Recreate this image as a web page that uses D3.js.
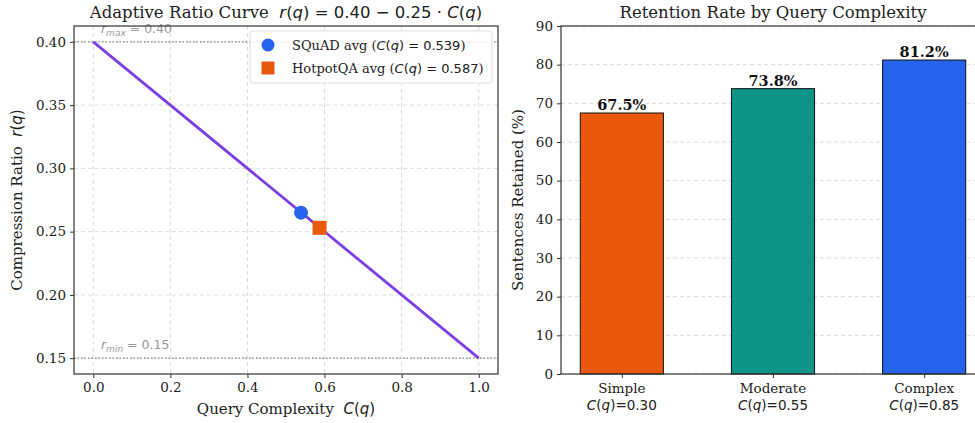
<!DOCTYPE html>
<html><head><meta charset="utf-8">
<script src="https://cdn.jsdelivr.net/npm/d3@7"></script>
<style>body{margin:0;background:#fff}svg{display:block}</style>
</head><body>
<script>
// ---- data ----
const lineX = [0.0, 1.0];
const lineY = [0.40, 0.15];
const rMax = 0.40, rMin = 0.15;
const datasetNames = ["SQuAD avg", "HotpotQA avg"];
const datasetC = [0.539, 0.587];
const datasetR = [0.265, 0.253];
const xTicksL = [0.0, 0.2, 0.4, 0.6, 0.8, 1.0];
const yTicksL = [0.15, 0.20, 0.25, 0.30, 0.35, 0.40];
const categories = ["Simple", "Moderate", "Complex"];
const catC = ["0.30", "0.55", "0.85"];
const retention = [67.5, 73.8, 81.2];
const yTicksR = [0, 10, 20, 30, 40, 50, 60, 70, 80, 90];
const barColors = ["#e8590c", "#0f9488", "#2563eb"];

const W = 975, H = 423;
const serif = "DejaVu Serif";
const sans = "DejaVu Sans";
const NB = "\u00a0";
const svg = d3.select("body").append("svg").attr("width", W).attr("height", H);

// parts: [text, style] style: 0 serif, 1 sans italic, 2 sans upright
function mixed(sel, parts) {
  parts.forEach(p => {
    const s = p[1] || 0;
    sel.append("tspan").text(p[0])
      .attr("font-family", s ? sans : serif)
      .attr("font-style", s === 1 ? "italic" : "normal");
  });
  return sel;
}

// ---- left panel ----
const L = {x0: 74, x1: 498, y0: 26, y1: 374};
const xL = d3.scaleLinear().domain([-0.05, 1.05]).range([L.x0, L.x1]);
const yL = d3.scaleLinear().domain([0.1375, 0.4125]).range([L.y1, L.y0]);
const gL = svg.append("g");

// grid
gL.selectAll(".gx").data(xTicksL).join("line")
  .attr("x1", d => xL(d)).attr("x2", d => xL(d)).attr("y1", L.y0).attr("y2", L.y1)
  .attr("stroke", "#d0d0d0").attr("stroke-dasharray", "4,3").attr("stroke-width", 0.8);
gL.selectAll(".gy").data(yTicksL).join("line")
  .attr("x1", L.x0).attr("x2", L.x1).attr("y1", d => yL(d)).attr("y2", d => yL(d))
  .attr("stroke", "#d0d0d0").attr("stroke-dasharray", "4,3").attr("stroke-width", 0.8);

// reference lines
[rMax, rMin].forEach(v => {
  gL.append("line").attr("x1", L.x0).attr("x2", L.x1).attr("y1", yL(v)).attr("y2", yL(v))
    .attr("stroke", "#888").attr("stroke-dasharray", "1.5,2").attr("stroke-width", 1.2);
});
function refLabel(v, sub, txt) {
  const t = gL.append("text").attr("x", xL(0.02)).attr("y", yL(v) - 9)
    .attr("font-size", 12.5).attr("fill", "#999");
  t.append("tspan").text("r").attr("font-family", sans).attr("font-style", "italic");
  t.append("tspan").text(sub).attr("font-family", sans).attr("font-style", "italic").attr("font-size", 9).attr("dy", 3);
  t.append("tspan").text(" = " + txt).attr("font-family", sans).attr("dy", -3);
}
refLabel(rMax, "max", "0.40");
refLabel(rMin, "min", "0.15");

// curve
const lineGen = d3.line().x(d => xL(d[0])).y(d => yL(d[1]));
gL.append("path").datum(lineX.map((x, i) => [x, lineY[i]])).attr("d", lineGen)
  .attr("fill", "none").attr("stroke", "#7b3fe4").attr("stroke-width", 2.8);

// points
gL.append("circle").attr("cx", xL(datasetC[0])).attr("cy", yL(datasetR[0])).attr("r", 7)
  .attr("fill", "#2563eb");
gL.append("rect").attr("x", xL(datasetC[1]) - 7).attr("y", yL(datasetR[1]) - 7)
  .attr("width", 14).attr("height", 14).attr("fill", "#e8590c");

// axes
const axL = gL.append("g").attr("transform", `translate(0,${L.y1})`)
  .call(d3.axisBottom(xL).tickValues(xTicksL).tickFormat(d3.format(".1f")).tickSize(4).tickPadding(4));
const ayL = gL.append("g").attr("transform", `translate(${L.x0},0)`)
  .call(d3.axisLeft(yL).tickValues(yTicksL).tickFormat(d3.format(".2f")).tickSize(4).tickPadding(4));
[axL, ayL].forEach(a => {
  a.select(".domain").remove();
  a.selectAll("text").attr("font-family", serif).attr("font-size", 13.5).attr("fill", "#222");
  a.selectAll("line").attr("stroke", "#333");
});
gL.append("rect").attr("x", L.x0).attr("y", L.y0).attr("width", L.x1 - L.x0).attr("height", L.y1 - L.y0)
  .attr("fill", "none").attr("stroke", "#333").attr("stroke-width", 1.2);

// legend
const lg = gL.append("g");
lg.append("rect").attr("x", 250).attr("y", 31).attr("width", 242).attr("height", 52).attr("rx", 3)
  .attr("fill", "#fff").attr("fill-opacity", 0.85).attr("stroke", "#ddd");
lg.append("circle").attr("cx", 268).attr("cy", 45).attr("r", 6.5).attr("fill", "#2563eb");
lg.append("rect").attr("x", 261.5).attr("y", 61.5).attr("width", 13).attr("height", 13).attr("fill", "#e8590c");
datasetNames.forEach((n, i) => {
  mixed(lg.append("text").attr("x", 292).attr("y", 50 + 23 * i).attr("font-size", 13).attr("fill", "#222"),
    [[n + " ("], ["C", 1], ["(", 2], ["q", 1], [") = " + datasetC[i].toFixed(3), 2], [")"]]);
});

// titles / labels
const tl = svg.append("text").attr("x", (L.x0 + L.x1) / 2).attr("y", 18).attr("text-anchor", "middle")
  .attr("font-size", 16.5).attr("fill", "#222");
mixed(tl, [["Adaptive Ratio Curve" + NB + NB], ["r", 1], ["(", 2], ["q", 1], [")", 2], [" = 0.40 − 0.25 · ", 2], ["C", 1], ["(", 2], ["q", 1], [")", 2]]);

const xlabL = svg.append("text").attr("x", (L.x0 + L.x1) / 2).attr("y", 414).attr("text-anchor", "middle")
  .attr("font-size", 15).attr("fill", "#222");
mixed(xlabL, [["Query Complexity" + NB + NB], ["C", 1], ["(", 2], ["q", 1], [")", 2]]);
const ylabL = svg.append("text").attr("transform", `translate(22,${(L.y0 + L.y1) / 2}) rotate(-90)`)
  .attr("text-anchor", "middle").attr("font-size", 15).attr("fill", "#222");
mixed(ylabL, [["Compression Ratio" + NB + NB], ["r", 1], ["(", 2], ["q", 1], [")", 2]]);

// ---- right panel ----
const R = {x0: 561, x1: 985, y0: 26, y1: 374};
const xR = d3.scaleLinear().domain([-0.4025, 2.4025]).range([R.x0, R.x1]);
const yR = d3.scaleLinear().domain([0, 90]).range([R.y1, R.y0]);
const gR = svg.append("g");
gR.selectAll(".gy").data(yTicksR).join("line")
  .attr("x1", R.x0).attr("x2", R.x1).attr("y1", d => yR(d)).attr("y2", d => yR(d))
  .attr("stroke", "#d0d0d0").attr("stroke-dasharray", "4,3").attr("stroke-width", 0.8);
const bw = 0.55;
gR.selectAll(".bar").data(retention).join("rect")
  .attr("x", (d, i) => xR(i - bw / 2)).attr("width", xR(bw) - xR(0))
  .attr("y", d => yR(d)).attr("height", d => yR(0) - yR(d))
  .attr("fill", (d, i) => barColors[i]).attr("stroke", "#111").attr("stroke-width", 1);
gR.selectAll(".lbl").data(retention).join("text")
  .attr("x", (d, i) => xR(i)).attr("y", d => yR(d) - 3).attr("text-anchor", "middle")
  .attr("font-family", serif).attr("font-weight", "bold").attr("font-size", 14.5).attr("fill", "#111")
  .text(d => d.toFixed(1) + "%");

const ayR = gR.append("g").attr("transform", `translate(${R.x0},0)`)
  .call(d3.axisLeft(yR).tickValues(yTicksR).tickSize(4).tickPadding(4));
ayR.select(".domain").remove();
ayR.selectAll("text").attr("font-family", serif).attr("font-size", 13.5).attr("fill", "#222");
ayR.selectAll("line").attr("stroke", "#333");
const axR = gR.append("g").attr("transform", `translate(0,${R.y1})`)
  .call(d3.axisBottom(xR).tickValues([0, 1, 2]).tickFormat("").tickSize(4));
axR.select(".domain").remove();
axR.selectAll("line").attr("stroke", "#333");
categories.forEach((c, i) => {
  gR.append("text").attr("x", xR(i)).attr("y", 393).attr("text-anchor", "middle")
    .attr("font-family", serif).attr("font-size", 13.5).attr("fill", "#222").text(c);
  const t = gR.append("text").attr("x", xR(i)).attr("y", 410).attr("text-anchor", "middle")
    .attr("font-size", 13.5).attr("fill", "#222").attr("font-family", sans);
  t.append("tspan").text("C").attr("font-style", "italic");
  t.append("tspan").text("(");
  t.append("tspan").text("q").attr("font-style", "italic");
  t.append("tspan").text(")=" + catC[i]);
});
gR.append("rect").attr("x", R.x0).attr("y", R.y0).attr("width", R.x1 - R.x0).attr("height", R.y1 - R.y0)
  .attr("fill", "none").attr("stroke", "#333").attr("stroke-width", 1.2);
svg.append("text").attr("x", 773).attr("y", 18).attr("text-anchor", "middle")
  .attr("font-family", serif).attr("font-size", 16.5).attr("fill", "#222").text("Retention Rate by Query Complexity");
svg.append("text").attr("transform", `translate(523,${(R.y0 + R.y1) / 2}) rotate(-90)`)
  .attr("text-anchor", "middle").attr("font-family", serif).attr("font-size", 15).attr("fill", "#222")
  .text("Sentences Retained (%)");
</script>
</body></html>
